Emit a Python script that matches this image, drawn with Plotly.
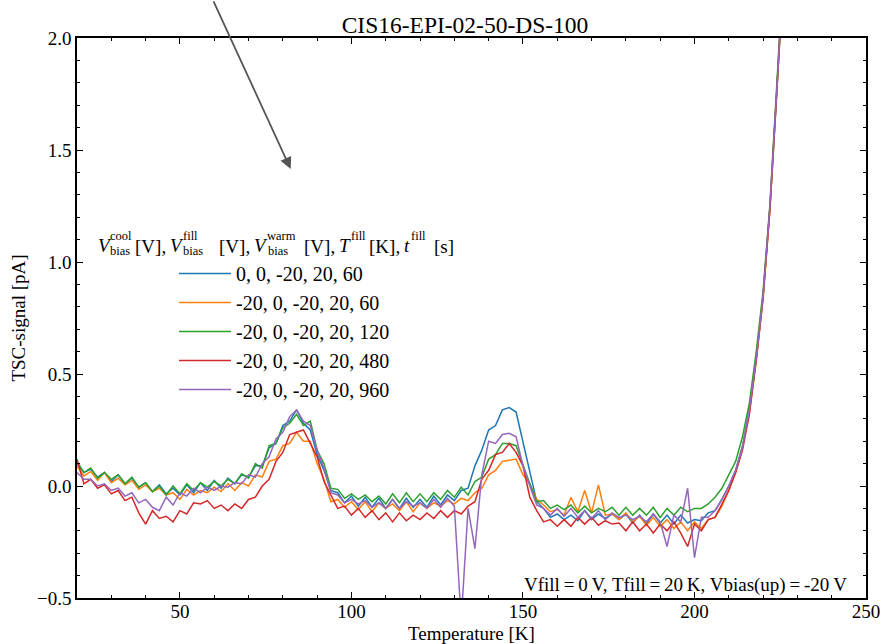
import plotly.graph_objects as go

# ---------------- data ----------------
temperature = list(range(20, 227, 2))  # K

series_names = [
    "0, 0, -20, 20, 60",
    "-20, 0, -20, 20, 60",
    "-20, 0, -20, 20, 120",
    "-20, 0, -20, 20, 480",
    "-20, 0, -20, 20, 960",
]
series_colors = ["#1f77b4", "#ff7f0e", "#2ca02c", "#d62728", "#9467bd"]

blue = [0.1, 0.06, 0.075, 0.04, 0.06, 0.02, 0.05, 0.01, 0.035, -0.005,
        0.015, -0.025, 0.005, -0.035, -0.01, -0.04, 0.005, -0.03, 0.015, -0.02,
        0.025, -0.01, 0.035, 0.01, 0.05, 0.04, 0.09, 0.09, 0.17, 0.19,
        0.27, 0.29, 0.34, 0.28, 0.25, 0.14, 0.07, -0.02, -0.03, -0.075,
        -0.045, -0.09, -0.05, -0.095, -0.055, -0.1, -0.06, -0.1, -0.055, -0.095,
        -0.06, -0.095, -0.045, -0.085, -0.04, -0.065, -0.02, -0.01, 0.09, 0.16,
        0.25, 0.27, 0.34, 0.35, 0.33, 0.2, 0.06, -0.07, -0.1, -0.14,
        -0.125, -0.15, -0.13, -0.155, -0.11, -0.15, -0.125, -0.145, -0.125, -0.15,
        -0.125, -0.165, -0.13, -0.17, -0.125, -0.165, -0.13, -0.17, -0.13, -0.165,
        -0.15, -0.155, -0.12, -0.11, -0.06, 0.0, 0.07, 0.18, 0.34, 0.57,
        0.85, 1.24, 1.76, 2.3]

orange = [0.09, 0.045, 0.065, 0.025, 0.06, 0.015, 0.035, 0.005, 0.025, -0.015,
          0.005, -0.025, -0.01, -0.04, -0.03, -0.06, -0.015, -0.04, -0.02, -0.03,
          -0.005, -0.025, 0.01, -0.02, 0.015, 0.0, 0.05, 0.04, 0.11, 0.12,
          0.18, 0.19, 0.24, 0.2, 0.2, 0.1, 0.03, -0.07, -0.06, -0.095,
          -0.07, -0.105, -0.07, -0.115, -0.075, -0.1, -0.08, -0.11, -0.07, -0.115,
          -0.075, -0.1, -0.075, -0.09, -0.065, -0.08, -0.055, -0.065, -0.03, -0.01,
          0.05, 0.07, 0.11, 0.115, 0.12, 0.05, 0.01, -0.06, -0.085, -0.115,
          -0.105, -0.13, -0.05, -0.115, -0.02, -0.12, 0.005, -0.13, -0.125, -0.15,
          -0.12, -0.16, -0.135, -0.175, -0.14, -0.18, -0.15, -0.19, -0.16, -0.2,
          -0.16, -0.19, -0.15, -0.14, -0.09, -0.02, 0.06, 0.17, 0.33, 0.56,
          0.84, 1.23, 1.75, 2.3]

green = [0.11, 0.06, 0.08, 0.035, 0.06, 0.03, 0.05, 0.01, 0.04, -0.005,
         0.015, -0.025, 0.0, -0.04, 0.0, -0.035, 0.01, -0.02, 0.015, -0.005,
         0.02, 0.0, 0.03, 0.01, 0.055, 0.035, 0.1, 0.08, 0.18, 0.19,
         0.26, 0.28, 0.32, 0.27, 0.29, 0.16, 0.1, -0.01, -0.015, -0.055,
         -0.035, -0.06, -0.04, -0.07, -0.045, -0.08, -0.035, -0.075, -0.03, -0.07,
         -0.035, -0.07, -0.03, -0.06, -0.02, -0.05, -0.005, -0.04, 0.02, 0.04,
         0.12, 0.14, 0.19, 0.19, 0.18, 0.09, 0.01, -0.07, -0.065, -0.1,
         -0.085, -0.105, -0.085, -0.12, -0.09, -0.12, -0.1, -0.115, -0.095, -0.13,
         -0.095, -0.13, -0.1, -0.13, -0.095, -0.14, -0.1, -0.13, -0.095, -0.115,
         -0.1, -0.1, -0.08, -0.05, -0.01, 0.05, 0.11, 0.22, 0.37, 0.6,
         0.87, 1.26, 1.78, 2.33]

red = [0.12, 0.01, 0.03, -0.01, 0.005, -0.035, -0.02, -0.065, -0.05, -0.12,
       -0.17, -0.11, -0.145, -0.135, -0.16, -0.11, -0.125, -0.075, -0.08, -0.065,
       -0.1, -0.085, -0.11, -0.08, -0.1, -0.06, -0.05, 0.0, 0.03, 0.11,
       0.15, 0.23, 0.24, 0.25, 0.19, 0.13, 0.02, -0.04, -0.1, -0.09,
       -0.13, -0.1, -0.14, -0.11, -0.15, -0.12, -0.16, -0.12, -0.155, -0.13,
       -0.15, -0.12, -0.145, -0.11, -0.14, -0.11, -0.125, -0.09, -0.07, 0.03,
       0.07, 0.14, 0.15, 0.19, 0.15, 0.09, -0.05, -0.11, -0.16, -0.15,
       -0.18, -0.15, -0.18, -0.14, -0.17, -0.14, -0.175, -0.155, -0.17, -0.165,
       -0.2, -0.16, -0.2, -0.17, -0.21, -0.17, -0.2, -0.16, -0.21, -0.27,
       -0.17, -0.2, -0.15, -0.14, -0.08, -0.02, 0.06, 0.16, 0.32, 0.56,
       0.84, 1.24, 1.76, 2.32]

purple = [0.06, 0.03, 0.03, 0.0, 0.01, -0.02, -0.01, -0.045, -0.03, -0.075,
          -0.06, -0.095, -0.11, -0.05, -0.085, -0.03, -0.045, -0.01, -0.03, -0.005,
          -0.02, 0.0, -0.005, 0.015, 0.01, 0.05, 0.04, 0.1, 0.13, 0.21,
          0.24, 0.31, 0.34, 0.29, 0.27, 0.16, 0.08, -0.03, -0.04, -0.075,
          -0.06, -0.08, -0.065, -0.095, -0.075, -0.1, -0.06, -0.1, -0.07, -0.09,
          -0.075, -0.1, -0.06, -0.095, -0.055, -0.09, -0.6, -0.1, -0.28, 0.05,
          0.2, 0.19, 0.23, 0.235, 0.22, 0.09, 0.0, -0.085, -0.1, -0.13,
          -0.1, -0.135, -0.1, -0.14, -0.11, -0.145, -0.11, -0.15, -0.12, -0.14,
          -0.13, -0.15, -0.135, -0.16, -0.125, -0.16, -0.27, -0.13, -0.16, -0.01,
          -0.32, -0.14, -0.14, -0.11, -0.06, 0.0, 0.07, 0.17, 0.34, 0.57,
          0.85, 1.25, 1.77, 2.31]

series_values = [blue, orange, green, red, purple]

x_tick_values = [50, 100, 150, 200, 250]
y_tick_values = [-0.5, 0.0, 0.5, 1.0, 1.5, 2.0]

# ---------------- layout helpers ----------------
FIG_W, FIG_H = 885, 644
ML, MR, MT, MB = 77, 19, 38, 46
PW, PH = FIG_W - ML - MR, FIG_H - MT - MB
FONT = "Liberation Serif, Times New Roman, serif"


def px(x):
    return (x - ML) / PW


def py(y):
    return 1 - (y - MT) / PH


fig = go.Figure()
for name, vals, col in zip(series_names, series_values, series_colors):
    fig.add_trace(go.Scatter(x=temperature, y=vals, mode="lines", name=name,
                             line=dict(color=col, width=1.5)))

axis_common = dict(showline=True, linecolor="black", linewidth=1.6, mirror="ticks",
                   ticks="inside", ticklen=6, tickwidth=1.3, tickcolor="black",
                   showgrid=False, zeroline=False, automargin=False,
                   tickfont=dict(family=FONT, size=19, color="black"))

fig.update_xaxes(range=[20, 250], tickvals=x_tick_values, ticklabelstandoff=-5,
                 minor=dict(dtick=10, tick0=0, ticks="inside", ticklen=3, tickwidth=1, tickcolor="black"),
                 title=dict(text="Temperature [K]", font=dict(family=FONT, size=19, color="black"), standoff=6),
                 **axis_common)
fig.update_yaxes(range=[-0.5, 2.0], tickvals=y_tick_values, tickformat=".1f",
                 minor=dict(dtick=0.1, tick0=0, ticks="inside", ticklen=3, tickwidth=1, tickcolor="black"),
                 title=dict(text="TSC-signal [pA]", font=dict(family=FONT, size=19, color="black"), standoff=6),
                 **axis_common)

annotations = []
# legend title built from pieces (stacked sub/superscripts)
SS = 12.5
title_pieces = [
    ("<i>V</i>", 97, 245, 19), ("cool", 109, 236, SS), ("bias", 108.5, 251, SS), ("[V],", 134, 246, 19),
    ("<i>V</i>", 169, 245, 19), ("fill", 182, 236, SS), ("bias", 182, 251, SS), ("[V],", 218, 246, 19),
    ("<i>V</i>", 253, 245, 19), ("warm", 266, 236, SS), ("bias", 267, 251, SS), ("[V],", 303, 246, 19),
    ("<i>T</i>", 338, 245, 19), ("fill", 350, 236, SS), ("[K],", 368, 246, 19),
    ("<i>t</i>", 403, 245, 19), ("fill", 410, 236, SS), ("[s]", 433, 246, 19),
]
for txt, xl, yc, fs in title_pieces:
    annotations.append(dict(text=txt, x=px(xl), y=py(yc), xref="paper", yref="paper",
                            xanchor="left", yanchor="middle", showarrow=False, borderpad=0,
                            font=dict(family=FONT, size=fs, color="black")))

annotations.append(dict(text="Vfill\u2009=\u20090\u2009V, Tfill\u2009=\u200920\u2009K, Vbias(up)\u2009=\u2009-20\u2009V",
                        x=px(848), y=py(585), xref="paper", yref="paper", xanchor="right", yanchor="middle",
                        showarrow=False, borderpad=0, font=dict(family=FONT, size=19, color="black")))

annotations.append(dict(text="", x=82.3, y=1.415, xref="x", yref="y",
                        ax=59.6, ay=2.17, axref="x", ayref="y", showarrow=True,
                        arrowhead=2, arrowsize=1.3, arrowwidth=1.8, arrowcolor="#555555"))

fig.update_layout(
    width=FIG_W, height=FIG_H, autosize=False,
    margin=dict(l=ML, r=MR, t=MT, b=MB, pad=0),
    paper_bgcolor="white", plot_bgcolor="white",
    font=dict(family=FONT, size=19, color="black"),
    title=dict(text="CIS16-EPI-02-50-DS-100", x=px(465), xref="paper", xanchor="center",
               y=1 - 25 / FIG_H, yref="container", yanchor="middle",
               font=dict(family=FONT, size=23.5, color="black")),
    legend=dict(x=px(174), xanchor="left", y=py(254), yanchor="top", itemwidth=52,
                bgcolor="rgba(0,0,0,0)", borderwidth=0,
                font=dict(family=FONT, size=20, color="black")),
    annotations=annotations,
)

fig.write_html("out.html")
